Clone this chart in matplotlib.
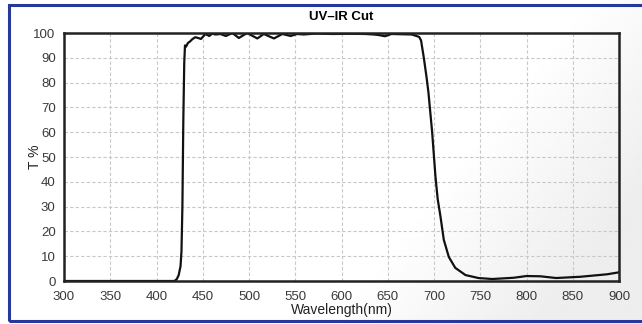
import matplotlib.pyplot as plt
import numpy as np
from matplotlib.patches import Rectangle

# transmission curve (wavelength nm, T %)
wavelength = [300, 350, 400, 415, 419.5, 422, 424, 426, 427, 428, 429, 430, 430.8, 432,
              434, 436, 439, 442, 445, 448, 451, 453, 457, 460, 464, 469, 475, 482,
              489, 498, 509, 516, 527, 536, 545, 552, 559, 573, 590, 610, 626, 635,
              640, 647, 654, 665, 676, 681, 684, 686, 689, 692, 694, 698, 701.6, 704,
              707, 710.6, 716, 723, 734, 748, 763, 786, 800, 815, 832, 858, 887, 900]
transmission = [0, 0, 0, 0, 0, 0.8, 2.4, 6, 12, 30, 65, 88, 95, 94.5,
                96, 96.5, 97.6, 98.3, 98.0, 97.6, 98.8, 99.6, 98.8, 99.7, 99.4, 99.6, 98.8, 100,
                98.0, 100, 97.8, 99.6, 97.8, 99.6, 98.8, 99.6, 99.4, 99.8, 99.6, 99.7, 99.6, 99.4,
                99.2, 98.7, 99.6, 99.5, 99.4, 98.8, 98.4, 97, 90, 82, 76, 60, 42, 33,
                26, 16.6, 9.7, 5.3, 2.4, 1.2, 0.8, 1.3, 2.0, 1.9, 1.2, 1.7, 2.7, 3.5]

xticks = list(range(300, 901, 50))
yticks = list(range(0, 101, 10))

plt.rcParams['font.family'] = ['Liberation Sans', 'DejaVu Sans']

fig = plt.figure(figsize=(6.42, 3.24), dpi=100)

# faint grey shading in the lower right corner
grad = np.linspace(0, 1, 200)
gx, gy = np.meshgrid(grad, grad)
shade = np.clip((gx - 0.75) * 3.0 + (gy - 0.4) * 1.2, 0, 1) * 0.07
bg = fig.add_axes([0, 0, 1, 1], zorder=-5)
bg.imshow(1 - shade, cmap='gray', vmin=0, vmax=1, extent=[0, 1, 0, 1],
          origin='upper', aspect='auto')
bg.set_axis_off()

# blue frame round the picture
fig.patches.append(Rectangle((9 / 642, 3 / 324), 1, 316 / 324, transform=fig.transFigure,
                             fill=False, edgecolor='#27389a', linewidth=2.2))

ax = fig.add_axes([64 / 642, 1 - 281 / 324, 555 / 642, 248 / 324])
ax.patch.set_alpha(0)
ax.plot(wavelength, transmission, color='#111111', linewidth=1.6)

ax.set_xlim(300, 900)
ax.set_ylim(0, 100)
ax.set_xticks(xticks)
ax.set_yticks(yticks)
ax.tick_params(length=0, labelsize=9.5, colors='#3a3a3a')
ax.tick_params(axis='x', pad=7)
ax.tick_params(axis='y', pad=6)
ax.grid(True, color='#c8c8c8', linestyle=(0, (3, 2)), linewidth=0.8)
for s in ax.spines.values():
    s.set_linewidth(1.8)
    s.set_color('#222222')

ax.set_title('UV\u2013IR Cut', fontsize=9.5, fontweight='bold', pad=9)
ax.set_xlabel('Wavelength(nm)', fontsize=10, labelpad=0, color='#222222')
ax.set_ylabel('T %', fontsize=10, color='#222222')
ax.yaxis.set_label_coords(-0.04, 0.5)

fig.savefig('out.png', dpi=100)
